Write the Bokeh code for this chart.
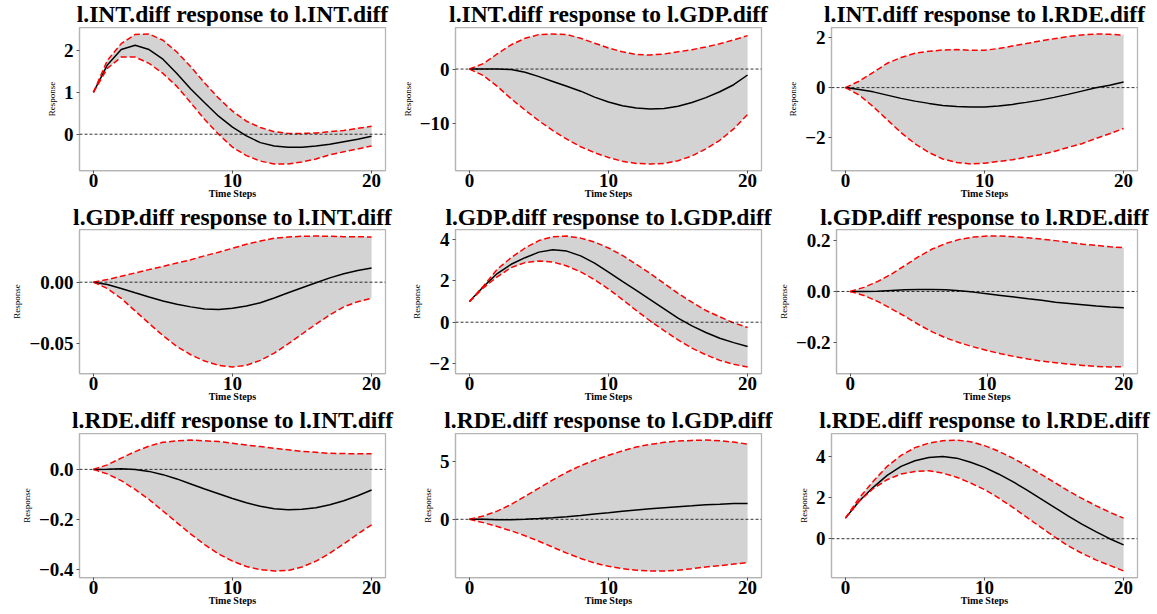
from bokeh.plotting import figure
from bokeh.layouts import column, row
from bokeh.models import Range1d, FixedTicker, Span, Label
from bokeh.embed import file_html
from bokeh.resources import INLINE

steps = list(range(21))
variables = ["l.INT.diff", "l.GDP.diff", "l.RDE.diff"]
x_ticks = [0, 10, 20]

# ---- response of l.INT.diff ----
int_int_mean = [1.00, 1.65, 2.02, 2.12, 2.02, 1.79, 1.45, 1.08, 0.75, 0.43, 0.17, -0.04, -0.20, -0.28, -0.31, -0.31, -0.28, -0.24, -0.18, -0.12, -0.05]
int_int_upper = [1.00, 1.76, 2.16, 2.38, 2.39, 2.24, 1.96, 1.61, 1.22, 0.86, 0.55, 0.31, 0.16, 0.06, 0.02, 0.02, 0.03, 0.06, 0.09, 0.14, 0.19]
int_int_lower = [1.00, 1.57, 1.84, 1.84, 1.69, 1.45, 1.14, 0.75, 0.35, 0.00, -0.31, -0.51, -0.64, -0.71, -0.71, -0.66, -0.59, -0.49, -0.42, -0.35, -0.28]

int_gdp_mean = [0.0, 0.0, 0.0, -0.1, -0.6, -1.4, -2.3, -3.2, -4.1, -5.2, -6.1, -6.8, -7.2, -7.4, -7.3, -6.9, -6.2, -5.3, -4.2, -2.9, -1.1]
int_gdp_upper = [0.0, 1.0, 2.8, 4.5, 5.7, 6.4, 6.5, 6.4, 5.7, 4.8, 3.9, 3.2, 2.7, 2.6, 2.8, 3.2, 3.6, 4.1, 4.7, 5.4, 6.2]
int_gdp_lower = [0.0, -1.2, -3.2, -5.5, -7.6, -9.6, -11.4, -13.0, -14.4, -15.5, -16.4, -17.1, -17.5, -17.6, -17.5, -17.0, -16.1, -14.8, -13.2, -11.1, -8.4]

int_rde_mean = [0.0, -0.08, -0.17, -0.30, -0.43, -0.54, -0.63, -0.71, -0.75, -0.77, -0.77, -0.73, -0.67, -0.59, -0.50, -0.39, -0.27, -0.14, -0.01, 0.09, 0.22]
int_rde_upper = [0.0, 0.26, 0.61, 0.97, 1.20, 1.37, 1.45, 1.50, 1.52, 1.49, 1.49, 1.56, 1.66, 1.76, 1.86, 1.95, 2.04, 2.10, 2.14, 2.13, 2.09]
int_rde_lower = [0.0, -0.30, -0.76, -1.28, -1.80, -2.24, -2.59, -2.85, -2.99, -3.05, -3.02, -2.95, -2.88, -2.78, -2.68, -2.55, -2.39, -2.24, -2.03, -1.84, -1.63]

# ---- response of l.GDP.diff ----
gdp_int_mean = [0.0, -0.0019, -0.0051, -0.0086, -0.0120, -0.0152, -0.0179, -0.0200, -0.0217, -0.0222, -0.0211, -0.0193, -0.0166, -0.0128, -0.0085, -0.0045, -0.0005, 0.0035, 0.0068, 0.0095, 0.0115]
gdp_int_upper = [0.0, 0.0021, 0.0048, 0.0075, 0.0102, 0.0128, 0.0155, 0.0182, 0.0214, 0.0243, 0.0275, 0.0307, 0.0334, 0.0356, 0.0366, 0.0372, 0.0374, 0.0372, 0.0369, 0.0369, 0.0366]
gdp_int_lower = [0.0, -0.0051, -0.0131, -0.0233, -0.0334, -0.0433, -0.0521, -0.0588, -0.0639, -0.0674, -0.0687, -0.0674, -0.0634, -0.0575, -0.0500, -0.0420, -0.0340, -0.0265, -0.0200, -0.0158, -0.0131]

gdp_gdp_mean = [1.0, 1.72, 2.36, 2.81, 3.13, 3.40, 3.52, 3.45, 3.22, 2.87, 2.43, 1.98, 1.55, 1.10, 0.65, 0.20, -0.18, -0.50, -0.78, -0.99, -1.18]
gdp_gdp_upper = [1.0, 1.75, 2.57, 3.13, 3.60, 3.96, 4.15, 4.18, 4.08, 3.89, 3.60, 3.24, 2.81, 2.36, 1.88, 1.40, 0.97, 0.57, 0.26, -0.03, -0.26]
gdp_gdp_lower = [1.0, 1.66, 2.20, 2.65, 2.89, 2.97, 2.92, 2.73, 2.44, 2.06, 1.61, 1.10, 0.57, 0.06, -0.41, -0.86, -1.26, -1.58, -1.85, -2.04, -2.17]

gdp_rde_mean = [0.0, 0.0, 0.001, 0.004, 0.0065, 0.008, 0.008, 0.0065, 0.0026, -0.0026, -0.009, -0.0156, -0.022, -0.029, -0.035, -0.042, -0.047, -0.052, -0.057, -0.061, -0.064]
gdp_rde_upper = [0.0, 0.016, 0.039, 0.068, 0.102, 0.137, 0.167, 0.189, 0.205, 0.214, 0.218, 0.218, 0.215, 0.211, 0.206, 0.200, 0.193, 0.186, 0.181, 0.176, 0.172]
gdp_rde_lower = [0.0, -0.0156, -0.039, -0.068, -0.098, -0.130, -0.159, -0.183, -0.202, -0.218, -0.232, -0.245, -0.256, -0.266, -0.274, -0.280, -0.286, -0.291, -0.295, -0.297, -0.296]

# ---- response of l.RDE.diff ----
rde_int_mean = [0.0, 0.001, 0.003, 0.0, -0.008, -0.021, -0.038, -0.058, -0.078, -0.097, -0.116, -0.133, -0.147, -0.157, -0.161, -0.159, -0.153, -0.141, -0.125, -0.105, -0.082]
rde_int_upper = [0.0, 0.018, 0.045, 0.071, 0.093, 0.108, 0.114, 0.117, 0.114, 0.111, 0.104, 0.097, 0.091, 0.084, 0.078, 0.072, 0.068, 0.064, 0.063, 0.062, 0.062]
rde_int_lower = [0.0, -0.018, -0.045, -0.080, -0.120, -0.166, -0.212, -0.258, -0.300, -0.337, -0.366, -0.387, -0.400, -0.405, -0.403, -0.389, -0.366, -0.334, -0.297, -0.258, -0.221]

rde_gdp_mean = [0.0, 0.0, -0.03, -0.03, 0.0, 0.06, 0.14, 0.23, 0.34, 0.46, 0.57, 0.69, 0.80, 0.91, 1.00, 1.09, 1.17, 1.26, 1.31, 1.37, 1.37]
rde_gdp_upper = [0.0, 0.29, 0.71, 1.29, 2.00, 2.71, 3.43, 4.09, 4.66, 5.14, 5.57, 5.94, 6.29, 6.51, 6.69, 6.80, 6.86, 6.89, 6.83, 6.71, 6.54]
rde_gdp_lower = [0.0, -0.29, -0.63, -1.00, -1.43, -1.91, -2.43, -2.94, -3.40, -3.80, -4.09, -4.29, -4.43, -4.49, -4.49, -4.43, -4.29, -4.14, -4.03, -3.89, -3.77]

rde_rde_mean = [1.0, 1.83, 2.50, 3.08, 3.52, 3.79, 3.95, 4.00, 3.92, 3.72, 3.47, 3.15, 2.79, 2.39, 1.96, 1.54, 1.11, 0.71, 0.34, 0.00, -0.30]
rde_rde_upper = [1.0, 1.99, 2.79, 3.52, 4.05, 4.43, 4.65, 4.77, 4.80, 4.72, 4.53, 4.26, 3.93, 3.56, 3.16, 2.75, 2.34, 1.96, 1.61, 1.29, 1.00]
rde_rde_lower = [1.0, 1.83, 2.44, 2.87, 3.15, 3.27, 3.31, 3.19, 2.99, 2.71, 2.39, 1.99, 1.54, 1.06, 0.58, 0.10, -0.34, -0.71, -1.03, -1.30, -1.57]

# ---- y ticks per panel ----
int_int_ticks, int_int_labels = [0, 1, 2], ["0", "1", "2"]
int_gdp_ticks, int_gdp_labels = [-10, 0], ["\u221210", "0"]
int_rde_ticks, int_rde_labels = [-2, 0, 2], ["\u22122", "0", "2"]
gdp_int_ticks, gdp_int_labels = [-0.05, 0.0], ["\u22120.05", "0.00"]
gdp_gdp_ticks, gdp_gdp_labels = [-2, 0, 2, 4], ["\u22122", "0", "2", "4"]
gdp_rde_ticks, gdp_rde_labels = [-0.2, 0.0, 0.2], ["\u22120.2", "0.0", "0.2"]
rde_int_ticks, rde_int_labels = [-0.4, -0.2, 0.0], ["\u22120.4", "\u22120.2", "0.0"]
rde_gdp_ticks, rde_gdp_labels = [0, 5], ["0", "5"]
rde_rde_ticks, rde_rde_labels = [0, 2, 4], ["0", "2", "4"]

grid_data = [
    [(int_int_mean, int_int_lower, int_int_upper, int_int_ticks, int_int_labels),
     (int_gdp_mean, int_gdp_lower, int_gdp_upper, int_gdp_ticks, int_gdp_labels),
     (int_rde_mean, int_rde_lower, int_rde_upper, int_rde_ticks, int_rde_labels)],
    [(gdp_int_mean, gdp_int_lower, gdp_int_upper, gdp_int_ticks, gdp_int_labels),
     (gdp_gdp_mean, gdp_gdp_lower, gdp_gdp_upper, gdp_gdp_ticks, gdp_gdp_labels),
     (gdp_rde_mean, gdp_rde_lower, gdp_rde_upper, gdp_rde_ticks, gdp_rde_labels)],
    [(rde_int_mean, rde_int_lower, rde_int_upper, rde_int_ticks, rde_int_labels),
     (rde_gdp_mean, rde_gdp_lower, rde_gdp_upper, rde_gdp_ticks, rde_gdp_labels),
     (rde_rde_mean, rde_rde_lower, rde_rde_upper, rde_rde_ticks, rde_rde_labels)],
]

SERIF = "Liberation Serif"
FRAME_W = 306
COL_LEFT = [79, 56, 56]
COL_RIGHT = [14, 14, 20]
STRIP_H = 26
TITLE_MID = 13
ROW_TOP = [1, 0, 1]
ROW_FRAME_H = [143, 144, 144]
ROW_BOTTOM = [33, 33, 35]
SPINE = "#b4b4b4"


def title_strip(text, left, right):
    w = left + FRAME_W + right
    s = figure(width=w, height=STRIP_H, x_range=Range1d(0, w), y_range=Range1d(0, STRIP_H),
               output_backend="svg", toolbar_location=None, min_border=0,
               x_axis_location=None, y_axis_location=None)
    s.outline_line_color = None
    s.background_fill_color = "white"
    s.border_fill_color = "white"
    s.grid.visible = False
    s.add_layout(Label(x=left + FRAME_W / 2, y=TITLE_MID, x_units="canvas", y_units="canvas",
                       text=text, text_align="center", text_baseline="middle",
                       text_font=SERIF, text_font_size="23.5px", text_font_style="bold",
                       text_color="black"))
    return s


def make_panel(mean, lower, upper, yticks, ylabels, left, right, top, frame_h, bottom):
    allv = mean + lower + upper
    lo, hi = min(allv), max(allv)
    pad = 0.05 * (hi - lo)
    p = figure(width=left + FRAME_W + right, height=top + frame_h + bottom,
               x_range=Range1d(-1, 21), y_range=Range1d(lo - pad, hi + pad),
               output_backend="svg", toolbar_location=None,
               min_border_left=left, min_border_right=right,
               min_border_top=top, min_border_bottom=bottom)
    p.background_fill_color = "white"
    p.border_fill_color = "white"
    p.outline_line_color = SPINE
    p.outline_line_width = 1.25
    p.xgrid.visible = False
    p.ygrid.visible = False

    p.varea(x=steps, y1=lower, y2=upper, fill_color="#d3d3d3")
    p.add_layout(Span(location=0, dimension="width", line_color="black",
                      line_width=0.8, line_dash="3 2"))
    p.line(steps, mean, line_color="black", line_width=1.5)
    p.line(steps, lower, line_color="red", line_width=1.5, line_dash="6 3")
    p.line(steps, upper, line_color="red", line_width=1.5, line_dash="6 3")

    xa = p.xaxis[0]
    xa.ticker = FixedTicker(ticks=x_ticks)
    xa.axis_label = "Time Steps"
    xa.major_label_standoff = 0
    xa.axis_label_standoff = -2
    xa.axis_label_text_font_size = "10px"
    xa.axis_label_text_font_style = "bold"

    ya = p.yaxis[0]
    ya.ticker = FixedTicker(ticks=yticks)
    ya.major_label_overrides = {t: s for t, s in zip(yticks, ylabels)}
    ya.axis_label = "Response"
    ya.major_label_standoff = 3
    ya.axis_label_standoff = 4
    ya.axis_label_text_font_size = "9px"
    ya.axis_label_text_font_style = "normal"

    for ax in (xa, ya):
        ax.axis_line_color = SPINE
        ax.axis_line_width = 1.25
        ax.major_tick_line_color = "#555555"
        ax.major_tick_out = 3
        ax.major_tick_in = 0
        ax.minor_tick_out = 0
        ax.minor_tick_in = 0
        ax.major_label_text_font = SERIF
        ax.major_label_text_font_size = "19px"
        ax.major_label_text_font_style = "bold"
        ax.major_label_text_color = "black"
        ax.axis_label_text_font = SERIF
        ax.axis_label_text_color = "black"
    return p


blocks = []
for r in range(3):
    strips, figs = [], []
    for c in range(3):
        mean, lower, upper, yt, yl = grid_data[r][c]
        title = f"{variables[r]} response to {variables[c]}"
        strips.append(title_strip(title, COL_LEFT[c], COL_RIGHT[c]))
        figs.append(make_panel(mean, lower, upper, yt, yl, COL_LEFT[c], COL_RIGHT[c],
                               ROW_TOP[r], ROW_FRAME_H[r], ROW_BOTTOM[r]))
    blocks.append(row(*strips))
    blocks.append(row(*figs))

layout = column(*blocks)
open("out.html", "w").write(file_html(layout, INLINE))
